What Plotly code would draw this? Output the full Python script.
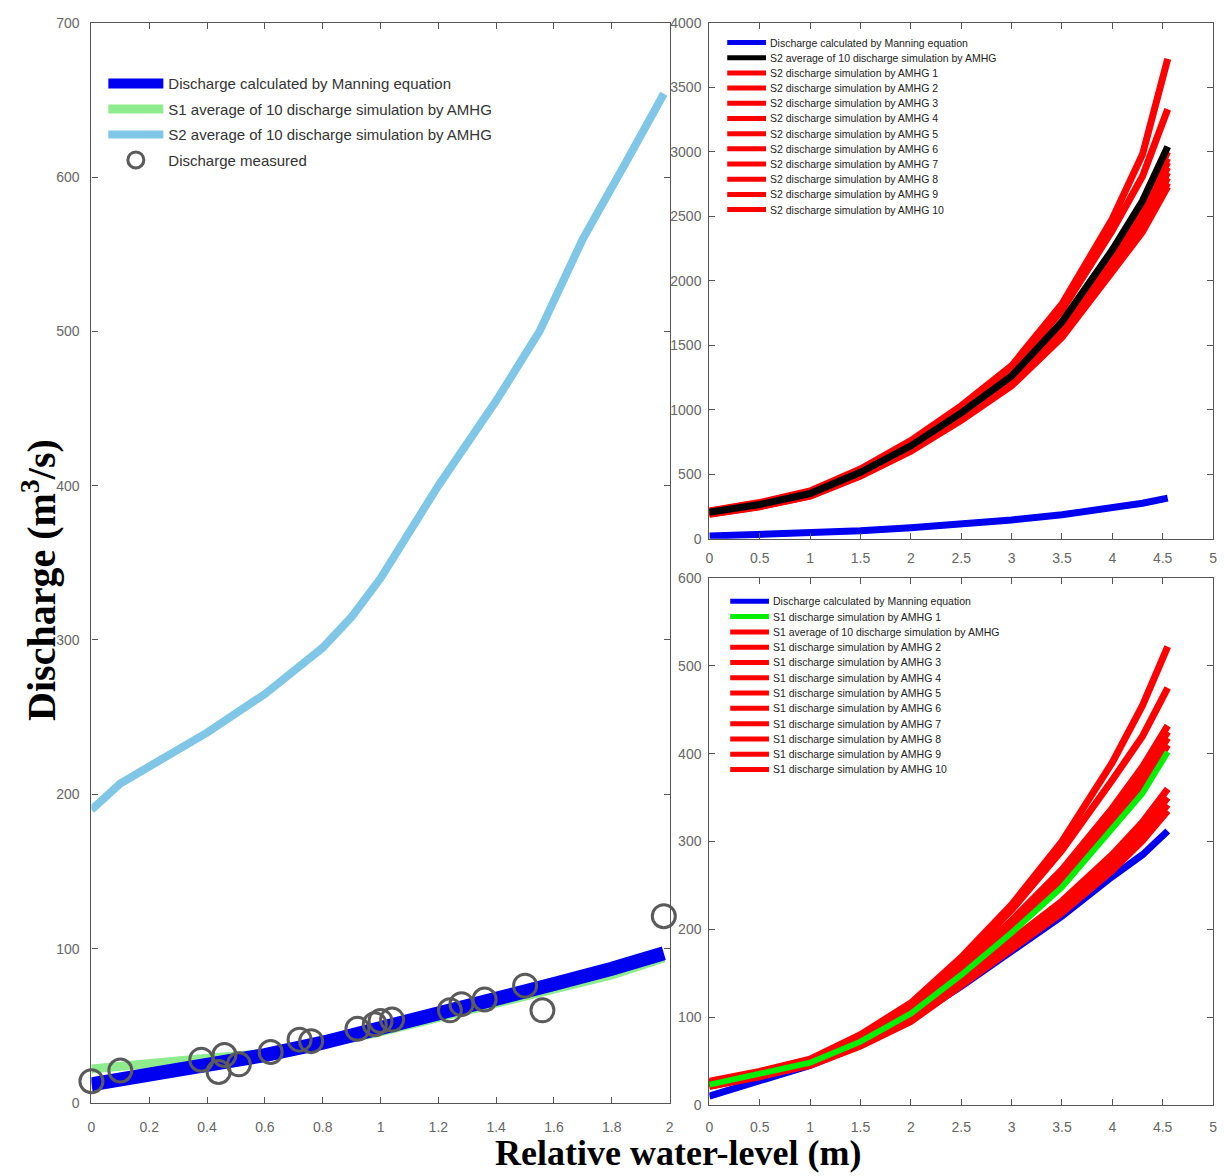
import plotly.graph_objects as go

# ---------------- Left panel data ----------------
left_x = [0, 0.2, 0.4, 0.6, 0.8, 1.0, 1.2, 1.4, 1.6, 1.8, 1.98]
left_manning = [12, 18, 24, 31, 39, 48, 57, 67, 77, 87, 97]
left_s1_avg = [22, 26, 29, 32, 38, 46, 55, 64, 73, 83, 94]

left_s2_x = [0, 0.1, 0.2, 0.4, 0.6, 0.8, 0.9, 1.0, 1.2, 1.4, 1.55, 1.7, 1.85, 1.98]
left_s2_avg = [190, 207, 218, 240, 265, 295, 315, 340, 400, 455, 500, 560, 610, 654]

meas_x = [0, 0.1, 0.38, 0.44, 0.46, 0.51, 0.62, 0.72, 0.76, 0.92, 0.98, 1.0, 1.04,
          1.24, 1.28, 1.36, 1.5, 1.56, 1.98]
meas_q = [14, 21, 28, 20, 31, 25, 33, 41, 40, 48, 51, 53, 54,
          60, 64, 67, 76, 60, 121]

# ---------------- Right panels data ----------------
rx = [0, 0.5, 1, 1.5, 2, 2.5, 3, 3.5, 4, 4.3, 4.55]

# top-right (S2)
tr_manning = [20, 30, 45, 62, 85, 112, 145, 185, 235, 275, 315]
tr_s2_avg = [205, 265, 350, 515, 720, 975, 1260, 1680, 2240, 2620, 3040]
tr_s2_1 = [215, 280, 370, 540, 760, 1030, 1340, 1820, 2480, 2980, 3720]
tr_s2_2 = [212, 275, 362, 530, 745, 1010, 1310, 1770, 2390, 2810, 3330]
tr_s2_3 = [205, 265, 350, 515, 720, 975, 1265, 1680, 2230, 2600, 3000]
tr_s2_4 = [200, 260, 345, 510, 712, 960, 1245, 1650, 2190, 2560, 2950]
tr_s2_5 = [198, 258, 342, 505, 705, 950, 1235, 1635, 2170, 2530, 2920]
tr_s2_6 = [196, 256, 340, 502, 700, 945, 1225, 1620, 2150, 2500, 2880]
tr_s2_7 = [195, 254, 338, 498, 695, 940, 1215, 1605, 2130, 2470, 2840]
tr_s2_8 = [194, 252, 335, 495, 690, 932, 1205, 1590, 2110, 2440, 2800]
tr_s2_9 = [192, 250, 332, 490, 684, 925, 1195, 1575, 2090, 2410, 2760]
tr_s2_10 = [190, 248, 330, 486, 678, 918, 1185, 1560, 2070, 2380, 2730]
tr_s2_runs = [tr_s2_1, tr_s2_2, tr_s2_3, tr_s2_4, tr_s2_5,
              tr_s2_6, tr_s2_7, tr_s2_8, tr_s2_9, tr_s2_10]

# bottom-right (S1)
br_manning = [10, 28, 45, 68, 98, 135, 175, 215, 260, 285, 312]
br_s1_green = [23, 35, 48, 72, 104, 148, 196, 248, 315, 355, 402]
br_s1_a = [27, 38, 52, 80, 116, 168, 228, 300, 390, 455, 522]
br_s1_b = [26, 37, 51, 78, 114, 164, 222, 290, 370, 420, 475]
br_s1_c = [25, 36, 50, 76, 110, 158, 210, 268, 338, 385, 432]
br_s1_d = [25, 36, 50, 75, 108, 156, 207, 264, 333, 378, 425]
br_s1_e = [24, 35, 49, 74, 107, 154, 204, 260, 328, 372, 418]
br_s1_f = [24, 35, 49, 73, 105, 151, 200, 255, 322, 365, 410]
br_s1_g = [22, 33, 47, 70, 100, 143, 188, 232, 285, 322, 360]
br_s1_h = [22, 33, 46, 69, 98, 140, 184, 227, 278, 314, 350]
br_s1_i = [21, 32, 46, 68, 97, 138, 181, 223, 272, 307, 342]
br_s1_j = [21, 32, 45, 67, 95, 136, 178, 219, 267, 301, 335]
br_s1_runs = [br_s1_a, br_s1_b, br_s1_c, br_s1_d, br_s1_e,
              br_s1_f, br_s1_g, br_s1_h, br_s1_i, br_s1_j]

# legend labels (as shown)
tr_labels = ["Discharge calculated by Manning equation",
             "S2 average of 10 discharge simulation by AMHG"] + \
    [f"S2 discharge simulation by AMHG {i}" for i in range(1, 11)]
br_labels = ["Discharge calculated by Manning equation",
             "S1 discharge simulation by AMHG 1",
             "S1 average of 10 discharge simulation by AMHG"] + \
    [f"S1 discharge simulation by AMHG {i}" for i in range(2, 11)]

left_xticks = [0, 0.2, 0.4, 0.6, 0.8, 1, 1.2, 1.4, 1.6, 1.8, 2]
left_yticks = [0, 100, 200, 300, 400, 500, 600, 700]
right_xticks = [0, 0.5, 1, 1.5, 2, 2.5, 3, 3.5, 4, 4.5, 5]
tr_yticks = [0, 500, 1000, 1500, 2000, 2500, 3000, 3500, 4000]
br_yticks = [0, 100, 200, 300, 400, 500, 600]

W, H = 1224, 1176
BLUE = "#0000F0"
RED = "#FF0000"
BLACK = "#000000"
GREEN = "#00F000"

fig = go.Figure()

# ---- left panel ----
fig.add_trace(go.Scatter(x=left_x, y=left_s1_avg, mode="lines",
                         line=dict(color="#8EEB8E", width=9),
                         name="S1 average of 10 discharge simulation by AMHG",
                         legendgroup="g2", legendrank=2, xaxis="x", yaxis="y"))
fig.add_trace(go.Scatter(x=left_s2_x, y=left_s2_avg, mode="lines",
                         line=dict(color="#80C6E6", width=8),
                         name="S2 average of 10 discharge simulation by AMHG",
                         legendgroup="g3", legendrank=3, xaxis="x", yaxis="y"))
fig.add_trace(go.Scatter(x=left_x, y=left_manning, mode="lines",
                         line=dict(color=BLUE, width=14),
                         name="Discharge calculated by Manning equation",
                         legendgroup="g1", legendrank=1, xaxis="x", yaxis="y"))
fig.add_trace(go.Scatter(x=meas_x, y=meas_q, mode="markers", cliponaxis=False,
                         marker=dict(symbol="circle-open", size=23, color="#5a5a5a",
                                     line=dict(width=3, color="#5a5a5a")),
                         name="Discharge measured",
                         legendgroup="g4", legendrank=4, xaxis="x", yaxis="y"))

# ---- top-right panel ----
fig.add_trace(go.Scatter(x=rx, y=tr_manning, mode="lines",
                         line=dict(color=BLUE, width=7), name=tr_labels[0],
                         showlegend=False, xaxis="x2", yaxis="y2"))
for i, run in enumerate(tr_s2_runs):
    fig.add_trace(go.Scatter(x=rx, y=run, mode="lines",
                             line=dict(color=RED, width=7), name=tr_labels[2 + i],
                             showlegend=False, xaxis="x2", yaxis="y2"))
fig.add_trace(go.Scatter(x=rx, y=tr_s2_avg, mode="lines",
                         line=dict(color=BLACK, width=7), name=tr_labels[1],
                         showlegend=False, xaxis="x2", yaxis="y2"))

# ---- bottom-right panel ----
fig.add_trace(go.Scatter(x=rx, y=br_manning, mode="lines",
                         line=dict(color=BLUE, width=7), name=br_labels[0],
                         showlegend=False, xaxis="x3", yaxis="y3"))
for i, run in enumerate(br_s1_runs):
    fig.add_trace(go.Scatter(x=rx, y=run, mode="lines",
                             line=dict(color=RED, width=7), name=br_labels[2 + i],
                             showlegend=False, xaxis="x3", yaxis="y3"))
fig.add_trace(go.Scatter(x=rx, y=br_s1_green, mode="lines",
                         line=dict(color=GREEN, width=6), name=br_labels[1],
                         showlegend=False, xaxis="x3", yaxis="y3"))


def px_x(p):
    return p / W


def px_y(p):
    return 1 - p / H


# compact legends for the right panels (MATLAB-style tight rows)
def compact_legend(labels, colors, x0, y0, step):
    for k, (lab, col) in enumerate(zip(labels, colors)):
        yc = y0 + k * step
        fig.add_shape(type="line", xref="paper", yref="paper",
                      x0=px_x(x0), x1=px_x(x0 + 39), y0=px_y(yc), y1=px_y(yc),
                      line=dict(color=col, width=5))
        fig.add_annotation(text=lab, xref="paper", yref="paper",
                           x=px_x(x0 + 41), y=px_y(yc), xanchor="left", yanchor="middle",
                           showarrow=False,
                           font=dict(family="Liberation Sans", size=10.5, color="#222"))


compact_legend(tr_labels, [BLUE, BLACK] + [RED] * 10, 728, 35, 15.4)
compact_legend(br_labels, [BLUE, GREEN] + [RED] * 10, 731, 601.5, 15.5)

axis_common = dict(showline=True, linecolor="#555", linewidth=1.2, mirror="ticks",
                   ticks="inside", ticklen=6, tickcolor="#555", showgrid=False,
                   zeroline=False, tickfont=dict(family="Liberation Sans", size=14, color="#666"))

fig.update_layout(
    width=W, height=H, margin=dict(l=0, r=0, t=0, b=0),
    paper_bgcolor="white", plot_bgcolor="white",
    xaxis=dict(domain=[px_x(88), px_x(670)], range=[0, 2], tickvals=left_xticks,
               ticktext=[f"{v:g}" for v in left_xticks], anchor="y",
               ticklabelstandoff=11, **axis_common),
    yaxis=dict(domain=[px_y(1110), px_y(15)], range=[0, 700], tickvals=left_yticks,
               anchor="x", ticklabelstandoff=8, **axis_common),
    xaxis2=dict(domain=[px_x(710), px_x(1217)], range=[0, 5], tickvals=right_xticks,
                ticktext=[f"{v:g}" for v in right_xticks], anchor="y2",
                ticklabelstandoff=6, **axis_common),
    yaxis2=dict(domain=[px_y(538), px_y(15)], range=[0, 4000], tickvals=tr_yticks,
                anchor="x2", ticklabelstandoff=4, **axis_common),
    xaxis3=dict(domain=[px_x(710), px_x(1217)], range=[0, 5], tickvals=right_xticks,
                ticktext=[f"{v:g}" for v in right_xticks], anchor="y3",
                ticklabelstandoff=9, **axis_common),
    yaxis3=dict(domain=[px_y(1112), px_y(578)], range=[0, 600], tickvals=br_yticks,
                anchor="x3", ticklabelstandoff=4, **axis_common),
    legend=dict(x=px_x(100), y=px_y(60), xanchor="left", yanchor="top",
                bgcolor="rgba(255,255,255,0)", itemwidth=55, tracegroupgap=3,
                traceorder="grouped",
                font=dict(family="Liberation Sans", size=15, color="#333")),
    showlegend=True,
)

fig.add_annotation(text="<b>Discharge (m<sup>3</sup>/s)</b>", x=px_x(35), y=px_y(580),
                   xref="paper", yref="paper", xanchor="center", yanchor="middle",
                   showarrow=False, textangle=-90,
                   font=dict(family="Liberation Serif", size=40, color="black"))
fig.add_annotation(text="<b>Relative water-level (m)</b>", x=px_x(678), y=px_y(1161),
                   xref="paper", yref="paper", xanchor="center", yanchor="middle",
                   showarrow=False,
                   font=dict(family="Liberation Serif", size=36, color="black"))

fig.write_html("out.html")
